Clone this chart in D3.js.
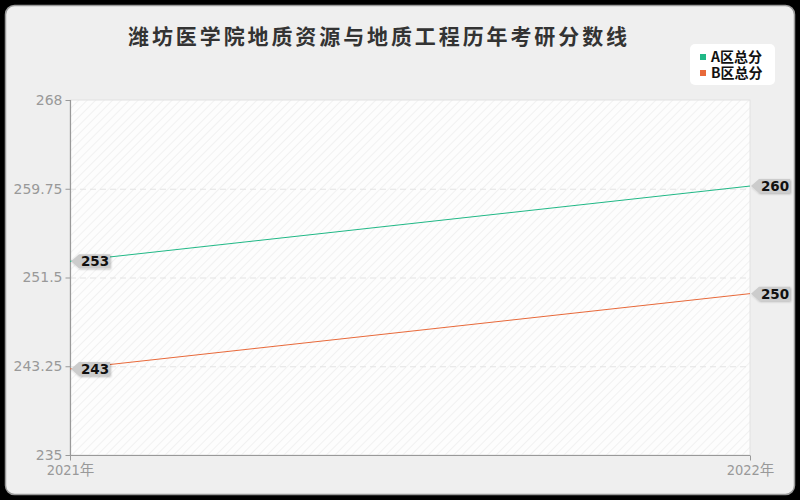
<!DOCTYPE html>
<html><head><meta charset="utf-8">
<script src="https://cdn.jsdelivr.net/npm/d3@7"></script>
<style>
html,body{margin:0;padding:0;background:#000;}
svg{display:block;}
</style></head>
<body>
<svg id="chart" width="800" height="500"></svg>
<script>
const title = "潍坊医学院地质资源与地质工程历年考研分数线";
const categories = ["2021年", "2022年"];
const seriesNames = ["A区总分", "B区总分"];
const seriesA = [253, 260];
const seriesB = [243, 250];
const yTicks = [235, 243.25, 251.5, 259.75, 268];
const colors = ["#20b886", "#e8693a"];

const svg = d3.select("#chart");
const W = 800, H = 500;
const m = {left: 70, right: 50, top: 100, bottom: 45};
const cjk = "'Noto Sans CJK SC','Noto Sans',sans-serif";

const defs = svg.append("defs");
const pat = defs.append("pattern").attr("id","hatch").attr("patternUnits","userSpaceOnUse")
  .attr("width",6).attr("height",6).attr("patternTransform","rotate(45)");
pat.append("rect").attr("width",6).attr("height",6).attr("fill","#fdfdfd");
pat.append("line").attr("x1",0).attr("y1",0).attr("x2",0).attr("y2",6).attr("stroke","#f1f1f1").attr("stroke-width",2);
const sh = defs.append("filter").attr("id","sh").attr("x","-20%").attr("y","-20%").attr("width","150%").attr("height","160%");
sh.append("feDropShadow").attr("dx",1).attr("dy",1).attr("stdDeviation",1).attr("flood-color","#000").attr("flood-opacity",0.25);

// frame
svg.append("rect").attr("x",5.5).attr("y",5.5).attr("width",789).attr("height",489).attr("rx",9)
  .attr("fill","#efefef").attr("stroke","#9a9a9a").attr("stroke-width",1.5);

const x = d3.scalePoint().domain(categories).range([m.left, W - m.right]);
const y = d3.scaleLinear().domain([235, 268]).range([H - m.bottom, m.top]);

// plot background
svg.append("rect").attr("x",m.left).attr("y",m.top).attr("width",W-m.left-m.right).attr("height",H-m.top-m.bottom)
  .attr("fill","url(#hatch)").attr("stroke","#e2e2e2").attr("stroke-width",1);

// grid
svg.append("g").selectAll("line").data(yTicks.slice(1, -1)).join("line")
  .attr("x1",m.left).attr("x2",W-m.right).attr("y1",d=>y(d)+0.5).attr("y2",d=>y(d)+0.5)
  .attr("stroke","#e4e4e4").attr("stroke-width",1.2).attr("stroke-dasharray","6,4");

// y axis
const yAxis = svg.append("g").attr("transform",`translate(${m.left+0.5},0)`)
  .call(d3.axisLeft(y).tickValues(yTicks).tickSize(5).tickPadding(3).tickFormat(d=>String(d)));
yAxis.select(".domain").attr("stroke","#999").attr("stroke-width",1.2).attr("d",`M0,${m.top}V${H-m.bottom}`);
yAxis.selectAll(".tick line").attr("stroke","#999");
yAxis.selectAll(".tick text").attr("fill","#999").style("font-size","14px").style("font-family","'DejaVu Sans',sans-serif");

// x axis
const xAxis = svg.append("g").attr("transform",`translate(0,${H-m.bottom+0.5})`)
  .call(d3.axisBottom(x).tickSize(5).tickPadding(4));
xAxis.select(".domain").attr("stroke","#999").attr("stroke-width",1.2).attr("d",`M${m.left},0H${W-m.right}`);
xAxis.selectAll(".tick line").attr("stroke","#999");
xAxis.selectAll(".tick text").attr("fill","#999").style("font-size","14.5px")
  .style("font-family","'DejaVu Sans Condensed','Noto Sans CJK SC',sans-serif")
  .attr("text-anchor","middle");

// lines
const allSeries = [seriesA, seriesB];
const line = d3.line().x((d,i)=>x(categories[i])).y(d=>y(d));
svg.append("g").selectAll("path").data(allSeries).join("path")
  .attr("d",line).attr("fill","none").attr("stroke",(d,i)=>colors[i]).attr("stroke-width",1);

// labels
const labelG = svg.append("g");
allSeries.forEach((s)=>{
  s.forEach((v,i)=>{
    const px = x(categories[i]), py = y(v);
    const g = labelG.append("g").attr("transform",`translate(${px},${py})`);
    g.append("path").attr("d","M1,0 L9,-7 H40 V7 H9 Z").attr("fill","#cccccc").attr("filter","url(#sh)");
    g.append("text").attr("x",25).attr("y",5).attr("text-anchor","middle")
      .style("font-size","13.5px").style("font-weight","bold").attr("fill","#111")
      .style("font-family","'DejaVu Sans',sans-serif").text(v);
  });
});

// title
svg.append("text").attr("x",379).attr("y",44).attr("text-anchor","middle")
  .style("font-size","21px").style("font-weight","bold").style("font-family",cjk)
  .attr("fill","#333").attr("letter-spacing",2.9).text(title);

// legend
const lg = svg.append("g");
lg.append("rect").attr("x",690).attr("y",44).attr("width",85).attr("height",41).attr("rx",5).attr("fill","#fff");
seriesNames.forEach((n,i)=>{
  lg.append("rect").attr("x",700).attr("y",54+i*16).attr("width",6).attr("height",6).attr("fill",colors[i]);
  lg.append("text").attr("x",711).attr("y",62+i*16).style("font-size","14px").style("font-weight","bold")
    .style("font-family",cjk).attr("fill","#111").text(n);
});
</script>
</body></html>
